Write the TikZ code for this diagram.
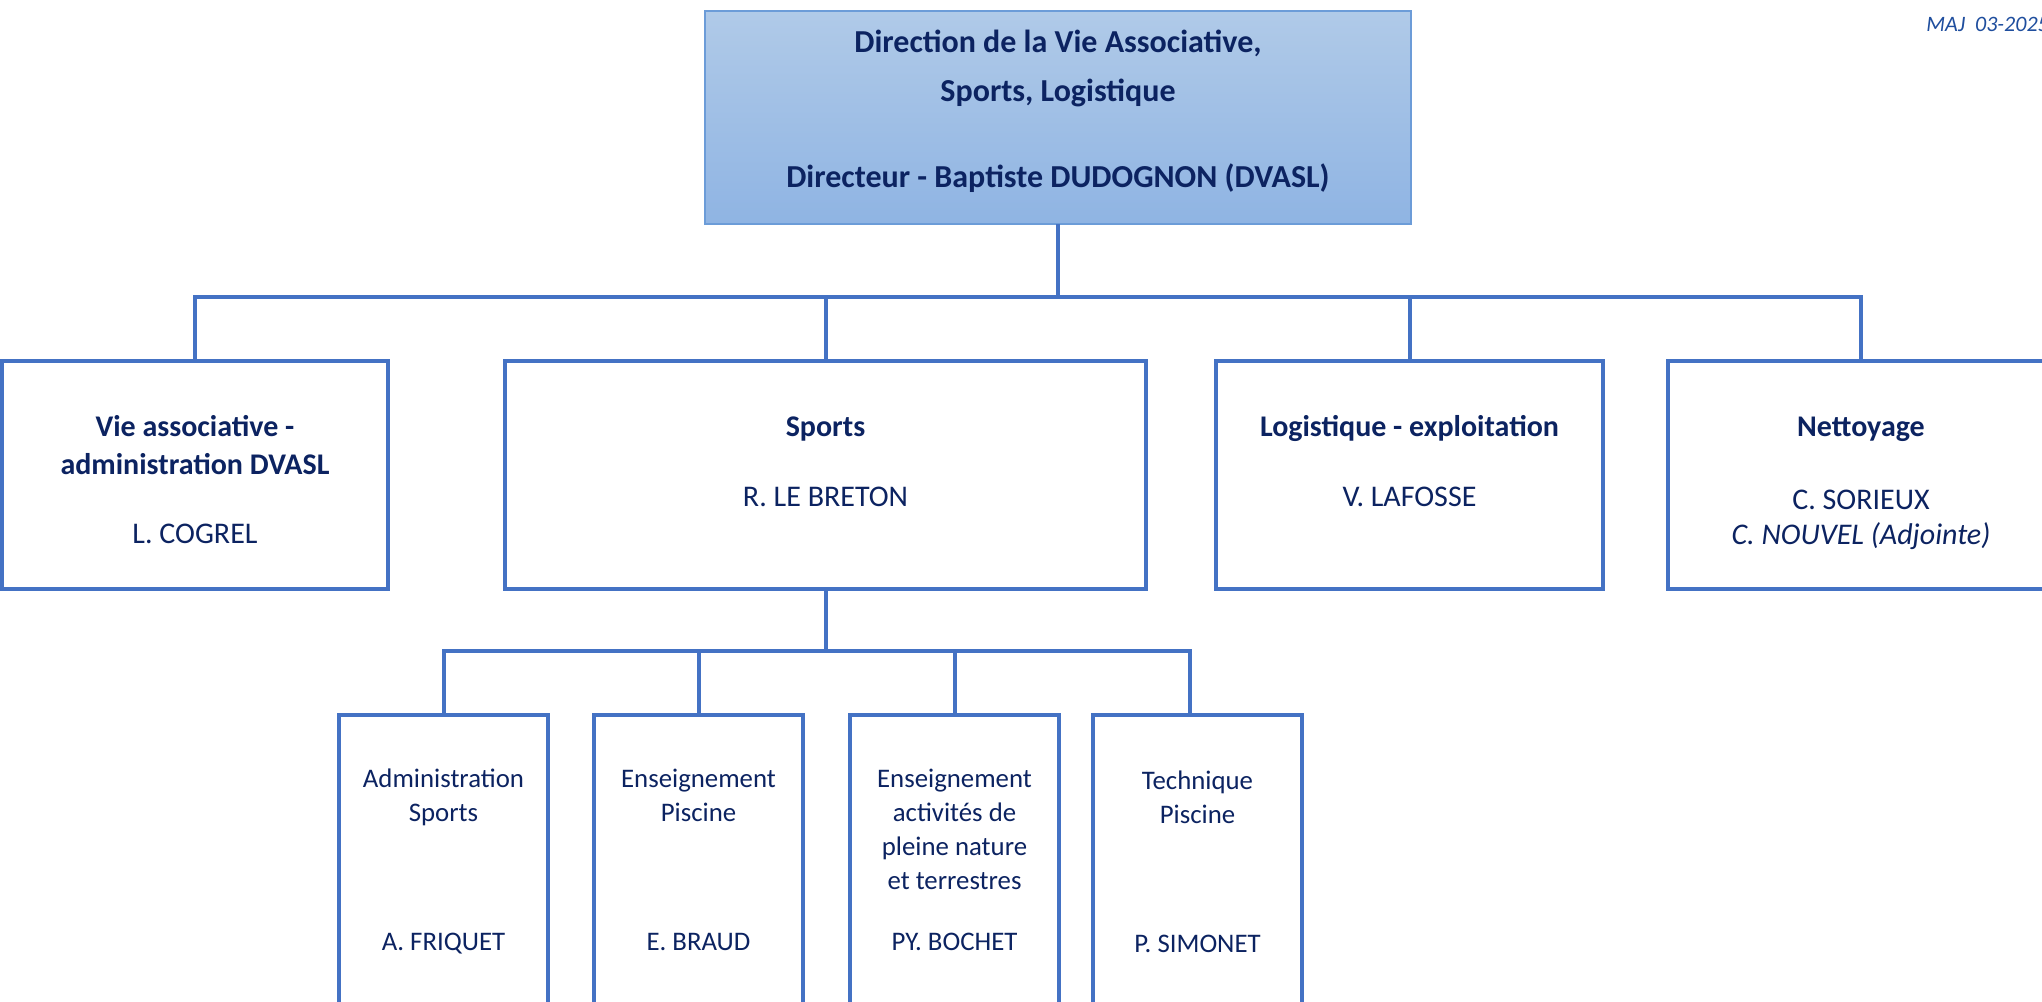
\documentclass[tikz,border=0pt]{standalone}
\usepackage{fontspec}
\setmainfont{Carlito}
\usetikzlibrary{positioning}
\definecolor{CadreBleu}{HTML}{4472C4}
\definecolor{TexteMarine}{HTML}{0C2361}
\definecolor{FondHaut}{HTML}{B0CAE8}
\definecolor{FondBas}{HTML}{8FB4E3}
\definecolor{BordDirection}{HTML}{6C9CD8}
\definecolor{TexteMaj}{HTML}{1F4E9E}
\tikzstyle{DirectionBox}=[rectangle, draw=BordDirection, line width=1pt, top color=FondHaut, bottom color=FondBas, inner sep=0pt, outer sep=0pt, text=TexteMarine, font=\fontsize{16}{19}\selectfont\bfseries]
\tikzstyle{ServiceBox}=[rectangle, draw=CadreBleu, line width=2pt, fill=white, inner sep=0pt, outer sep=0pt, minimum width=193pt, text=TexteMarine, font=\fontsize{15}{17.5}\selectfont]
\tikzstyle{UnitBox}=[rectangle, draw=CadreBleu, line width=2pt, inner sep=0pt, outer sep=0pt, text=TexteMarine, font=\fontsize{13.4}{17}\selectfont]
\tikzstyle{Liaison}=[draw=CadreBleu, line width=2pt]

\begin{document}
\begin{tikzpicture}[x=0.5pt, y=-0.5pt]
	\useasboundingbox (0,0) rectangle (2042,1002);
	\clip (0,0) rectangle (2042,1002);
	\fill[white] (0,0) rectangle (2042,1002);

	%Direction
	\node[DirectionBox]	(direction)	at (1058,117.5)	{\parbox[c][106.5pt][t]{353pt}{\centering\vspace*{7.2pt}\strut Direction de la Vie Associative,\\[5.5pt]Sports, Logistique\\[24pt]Directeur - Baptiste DUDOGNON (DVASL)}};
	\node[font=\fontsize{11}{13}\selectfont\itshape, text=TexteMaj, anchor=base west, inner sep=0pt]	(maj)	at (1926,31)	{MAJ~~03-2025};

	%Services
	\node[ServiceBox]	(vie_asso)	at (195,475)	{\parbox[c][114pt][t]{180pt}{\centering\vspace*{25.25pt}\strut\textbf{Vie associative -}\\[1.5pt]\textbf{administration DVASL}\\[17pt]L. COGREL}};
	\node[ServiceBox, minimum width=320.5pt]	(sports)	[right=58.5pt of vie_asso]	{\parbox[c][114pt][t]{180pt}{\centering\vspace*{25.25pt}\strut\textbf{Sports}\\[17.5pt]R. LE BRETON}};
	\node[ServiceBox, minimum width=193.5pt]	(logistique)	[right=35pt of sports]	{\parbox[c][114pt][t]{180pt}{\centering\vspace*{25.25pt}\strut\textbf{Logistique - exploitation}\\[17.5pt]V. LAFOSSE}};
	\node[ServiceBox]	(nettoyage)	[right=32.5pt of logistique]	{\parbox[c][114pt][t]{180pt}{\centering\vspace*{25.25pt}\strut\textbf{Nettoyage}\\[19pt]C. SORIEUX\\\textit{C. NOUVEL (Adjointe)}}};

	%Sports
	\node[UnitBox, anchor=north]	(admin_sports)	at (443.5,715)	{\parbox[c][170pt][t]{104.5pt}{\centering\vspace*{24.3pt}\strut Administration\\Sports\\[47.5pt]A. FRIQUET}};
	\node[UnitBox]	(ens_piscine)	[right=23pt of admin_sports]	{\parbox[c][170pt][t]{104.5pt}{\centering\vspace*{24.3pt}\strut Enseignement\\Piscine\\[47.5pt]E. BRAUD}};
	\node[UnitBox]	(ens_nature)	[right=23.5pt of ens_piscine]	{\parbox[c][170pt][t]{104.5pt}{\centering\vspace*{24.3pt}\strut Enseignement\\activités de\\pleine nature\\et terrestres\\[13.5pt]PY. BOCHET}};
	\node[UnitBox]	(tech_piscine)	[right=17pt of ens_nature]	{\parbox[c][170pt][t]{104.5pt}{\centering\vspace*{25.3pt}\strut Technique\\Piscine\\[47.5pt]P. SIMONET}};

	%Liaisons
	\coordinate (bus_dir) at ([yshift=-36.5pt]direction.south);
	\draw[Liaison] (direction.south) -- (bus_dir);
	\draw[Liaison] (vie_asso.north) |- (bus_dir) -| (nettoyage.north);
	\draw[Liaison] (sports.north) -- (sports.north |- bus_dir);
	\draw[Liaison] (logistique.north) -- (logistique.north |- bus_dir);

	\coordinate (bus_sports) at ([yshift=-31pt]sports.south);
	\draw[Liaison] (sports.south) -- (bus_sports);
	\draw[Liaison] (admin_sports.north) |- (bus_sports) -| ([xshift=-4pt]tech_piscine.north);
	\draw[Liaison] (ens_piscine.north) -- (ens_piscine.north |- bus_sports);
	\draw[Liaison] (ens_nature.north) -- (ens_nature.north |- bus_sports);
\end{tikzpicture}
\end{document}
